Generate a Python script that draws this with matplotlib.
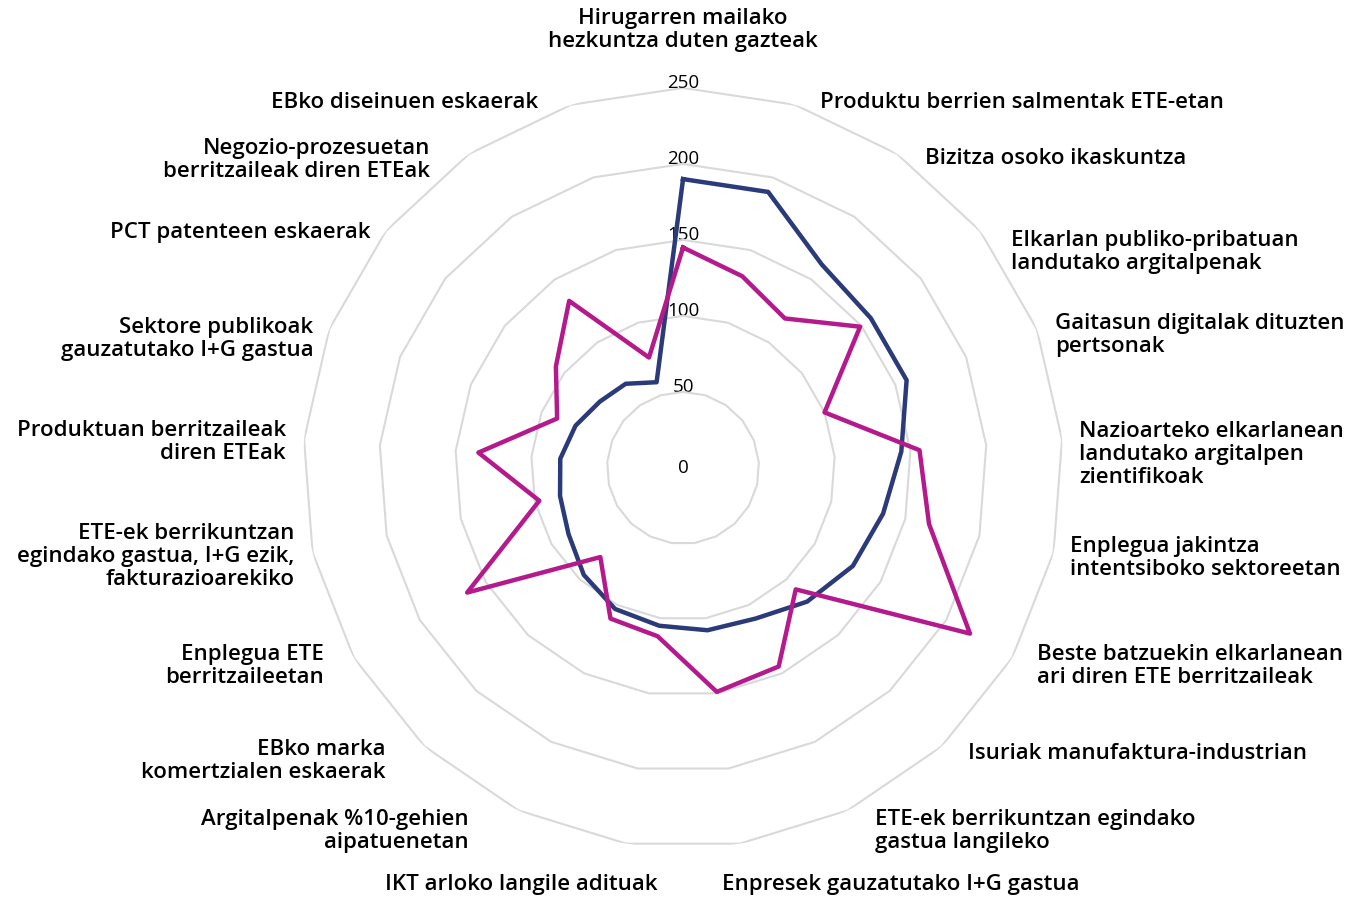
import numpy as np
import matplotlib
matplotlib.use('Agg')
import matplotlib.pyplot as plt

plt.rcParams['font.family'] = ['Open Sans', 'DejaVu Sans']

C_NAVY = '#2b3a78'
C_MAG = '#b51a8c'
C_GRID = '#d9d9d9'

categories = [
    'Hirugarren mailako\nhezkuntza duten gazteak',
    'Produktu berrien salmentak ETE-etan',
    'Bizitza osoko ikaskuntza',
    'Elkarlan publiko-pribatuan\nlandutako argitalpenak',
    'Gaitasun digitalak dituzten\npertsonak',
    'Nazioarteko elkarlanean\nlandutako argitalpen\nzientifikoak',
    'Enplegua jakintza\nintentsiboko sektoreetan',
    'Beste batzuekin elkarlanean\nari diren ETE berritzaileak',
    'Isuriak manufaktura-industrian',
    'ETE-ek berrikuntzan egindako\ngastua langileko',
    'Enpresek gauzatutako I+G gastua',
    'IKT arloko langile adituak',
    'Argitalpenak %10-gehien\naipatuenetan',
    'EBko marka\nkomertzialen eskaerak',
    'Enplegua ETE\nberritzaileetan',
    'ETE-ek berrikuntzan\negindako gastua, I+G ezik,\nfakturazioarekiko',
    'Produktuan berritzaileak\ndiren ETEak',
    'Sektore publikoak\ngauzatutako I+G gastua',
    'PCT patenteen eskaerak',
    'Negozio-prozesuetan\nberritzaileak diren ETEak',
    'EBko diseinuen eskaerak',
]
navy = [190, 190, 162, 158, 158, 144, 135, 129, 120, 110, 108,
        105, 103, 96, 87, 83, 81, 76, 70, 67, 59]
magenta = [145, 132, 119, 149, 100, 156, 166, 218, 109, 145, 149,
           112, 110, 80, 164, 97, 135, 89, 107, 133, 76]
ring_levels = [50, 100, 150, 200, 250]
ring_labels = ['50', '100', '150', '200', '250']

# small per-label nudges (pixels) on top of the generic placement
nudge_x = [0, 0, 0, 3, -8, -4, -7, -2, -2, 0, 7,
           6, -23, -11, -3, 6, 3, 10, 13, -11, -8]
nudge_y = [0, -2, -9, -24, -8, -15, -4, -6, -3, -16, -3,
           -3, -16, -11, -6, -3, -3, -12, -5, -10, -2]

n = len(categories)
theta = np.arange(n) * 2 * np.pi / n
theta_c = np.append(theta, theta[0])

fig = plt.figure(figsize=(13.68, 8.97), dpi=100)
ax = fig.add_axes([0.2215, 0.0547, 0.5556, 0.8473], projection='polar')
ax.set_theta_zero_location('N')
ax.set_theta_direction(-1)
ax.set_ylim(0, 250)
ax.grid(False)
ax.spines['polar'].set_visible(False)
ax.set_xticks([])
ax.set_yticks([])

# polygon grid
for lev in ring_levels:
    ax.plot(theta_c, [lev] * (n + 1), color=C_GRID, lw=1.5, zorder=1)

# value labels on the vertical axis
ax.text(0, 0, '0', ha='center', va='center', fontsize=13.5, zorder=0)
for lev, lab in zip(ring_levels, ring_labels):
    ax.text(0, lev + 3, lab, ha='center', va='center', fontsize=13.5, zorder=0)

ax.plot(theta_c, navy + navy[:1], color=C_NAVY, lw=3.2, zorder=3)
ax.plot(theta_c, magenta + magenta[:1], color=C_MAG, lw=3.2, zorder=4)

# category labels, placed in pixels from the centre (Excel-like layout)
for t, lab, nx, ny in zip(theta, categories, nudge_x, nudge_y):
    s, c = np.sin(t), np.cos(t)
    if abs(s) < 0.05:
        ha, va, dx, dy = 'center', 'bottom', 0, 416
    elif abs(c) > 0.97:
        ha = 'left' if s > 0 else 'right'
        va, dx, dy = 'center', np.sign(s) * 32, np.sign(c) * 414
    else:
        ha = 'left' if s > 0 else 'right'
        va = 'center'
        dx = np.sign(s) * (400 * abs(s) + 20 * abs(c))
        dy = 385 * c
    ax.annotate(lab, xy=(0, 0), xytext=(dx + nx, dy + ny),
                textcoords='offset pixels', ha=ha, va=va, multialignment=ha,
                fontsize=16, fontweight='semibold', linespacing=1.12,
                annotation_clip=False)

fig.savefig('out.png', dpi=100)
